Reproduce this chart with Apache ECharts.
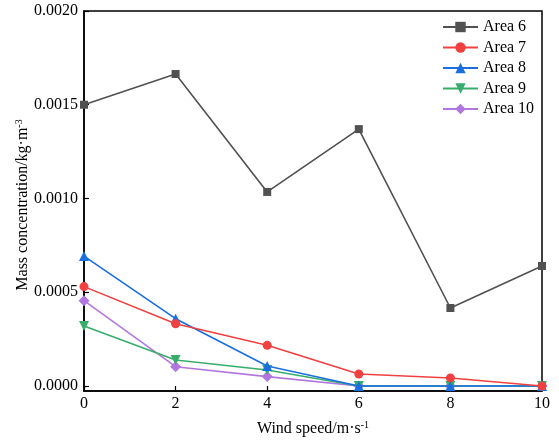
<!DOCTYPE html>
<html><head><meta charset="utf-8">
<script src="https://cdn.jsdelivr.net/npm/echarts@6/dist/echarts.min.js"></script>
<style>html,body{margin:0;padding:0;background:#fff}#c{width:559px;height:441px}</style>
</head><body><div id="c"></div>
<script>
var windSpeed = [0, 2, 4, 6, 8, 10];
var area6  = [0.00150, 0.001664, 0.001035, 0.00137, 0.000416, 0.00064];
var area7  = [0.00053, 0.000332, 0.000217, 0.000064, 0.000043, 0.0];
var area8  = [0.000693, 0.000359, 0.000107, 0.0, 0.0, 0.0];
var area9  = [0.00032, 0.000139, 0.000085, 0.0, 0.0, 0.0];
var area10 = [0.000455, 0.000103, 0.00005, 0.0, 0.0, 0.0];
var yTicks = [0, 0.0005, 0.0010, 0.0015, 0.0020];
var xTicks = [0, 2, 4, 6, 8, 10];
var seriesNames = ['Area 6', 'Area 7', 'Area 8', 'Area 9', 'Area 10'];
var seriesColors = ['#515151', '#F14040', '#1A6FDF', '#37AD6B', '#B177DE'];

var FONT = 'Liberation Serif';
function pairs(vals) { return windSpeed.map(function (x, i) { return [x, vals[i]]; }); }
var allData = [area6, area7, area8, area9, area10];
var symbols = [
  {symbol: 'rect', size: 8, rotate: 0},
  {symbol: 'circle', size: 9, rotate: 0},
  {symbol: 'triangle', size: 10, rotate: 0},
  {symbol: 'triangle', size: 10, rotate: 180},
  {symbol: 'diamond', size: 11, rotate: 0}
];
var series = allData.map(function (d, i) {
  return {
    name: seriesNames[i], type: 'line', data: pairs(d),
    symbol: symbols[i].symbol, symbolSize: symbols[i].size, symbolRotate: symbols[i].rotate,
    lineStyle: {color: seriesColors[i], width: 1.6},
    itemStyle: {color: seriesColors[i]},
    z: 10 - i, clip: true
  };
});

var chart = echarts.init(document.getElementById('c'), null, {renderer: 'canvas'});
chart.setOption({
  backgroundColor: '#fff',
  animation: false,
  grid: {left: 84, right: 17, top: 11, bottom: 50, show: true, borderColor: '#000', borderWidth: 1.5,
    containLabel: false, outerBoundsMode: 'none'},
  legend: {
    left: 442, top: 19, orient: 'vertical', itemWidth: 35, itemHeight: 13, itemGap: 4.5,
    padding: 0,
    textStyle: {fontFamily: FONT, fontSize: 16, color: '#000', lineHeight: 16},
    data: seriesNames
  },
  xAxis: {
    type: 'value', min: 0, max: 10, interval: 2,
    name: 'Wind speed/m·s{sup|-1}', nameLocation: 'middle', nameGap: 29, nameMoveOverlap: false,
    nameTextStyle: {fontFamily: FONT, fontSize: 16, color: '#000', lineHeight: 18,
      rich: {sup: {fontFamily: FONT, fontSize: 10, verticalAlign: 'top', lineHeight: 10, color: '#000'}}},
    axisLine: {show: true, onZero: false, lineStyle: {color: '#000', width: 1.5}},
    axisTick: {show: true, inside: true, length: 5, lineStyle: {color: '#000', width: 1.2}},
    axisLabel: {fontFamily: FONT, fontSize: 16, color: '#000', margin: 5},
    splitLine: {show: false}
  },
  yAxis: {
    type: 'value', min: -0.0000267, max: 0.0020,
    name: 'Mass concentration/kg·m{sup|-3}', nameLocation: 'middle', nameGap: 52, nameRotate: 90,
    nameMoveOverlap: false,
    nameTextStyle: {fontFamily: FONT, fontSize: 16, color: '#000', lineHeight: 18, padding: [0, 8, 0, 0],
      rich: {sup: {fontFamily: FONT, fontSize: 10, verticalAlign: 'top', lineHeight: 10, color: '#000'}}},
    axisLine: {show: true, onZero: false, lineStyle: {color: '#000', width: 1.5}},
    axisTick: {show: true, inside: true, length: 5, customValues: yTicks, lineStyle: {color: '#000', width: 1.2}},
    axisLabel: {fontFamily: FONT, fontSize: 16, color: '#000', margin: 6, customValues: yTicks,
      formatter: function (v) { return v.toFixed(4); }},
    splitLine: {show: false}
  },
  series: series
});
</script></body></html>
